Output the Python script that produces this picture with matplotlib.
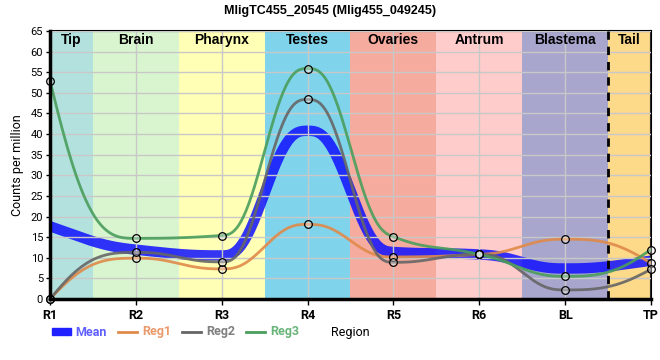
import numpy as np
import matplotlib
matplotlib.use("Agg")
import matplotlib.pyplot as plt
from matplotlib.patches import Patch
from matplotlib.lines import Line2D

# ---- data ----
positions = ["R1", "R2", "R3", "R4", "R5", "R6", "BL", "TP"]
reg1 = [0.0, 9.9, 7.3, 18.1, 10.2, 10.8, 14.5, 8.65]
reg2 = [0.0, 11.3, 9.0, 48.4, 8.9, 10.8, 2.2, 7.2]
reg3 = [52.9, 14.7, 15.4, 55.9, 15.1, 10.8, 5.5, 12.0]
regions = ["Tip", "Brain", "Pharynx", "Testes", "Ovaries", "Antrum", "Blastema", "Tail"]
region_colors = ["#b3e2de", "#d9f5cf", "#ffffb6", "#7fd4eb", "#f5ab9e", "#ffcccc", "#a8a6cc", "#fdd98a"]
title = "MligTC455_20545 (Mlig455_049245)"

mean = list(np.mean([reg1, reg2, reg3], axis=0))


def hermite_curve(ys, end_factor=None, n=60):
    ys = np.asarray(ys, float)
    k = len(ys)
    d = np.diff(ys)
    m = np.zeros(k)
    for i in range(1, k - 1):
        if d[i - 1] * d[i] > 0:
            m[i] = 2.0 / (1.0 / d[i - 1] + 1.0 / d[i])
    if end_factor is None:
        m[0] = 1.5 * d[0] - m[1] / 2
        m[-1] = 1.5 * d[-1] - m[-2] / 2
    else:
        m[0] = end_factor * d[0]
        m[-1] = end_factor * d[-1] if d[-1] * d[-2] <= 0 else 1.5 * d[-1] - m[-2] / 2
    xs_out, ys_out = [], []
    for i in range(k - 1):
        t = np.linspace(0, 1, n, endpoint=(i == k - 2))
        h0 = 1 - 10 * t**3 + 15 * t**4 - 6 * t**5
        h1 = t - 6 * t**3 + 8 * t**4 - 3 * t**5
        h3 = -4 * t**3 + 7 * t**4 - 3 * t**5
        h2 = 1 - h0
        y = h0 * ys[i] + h2 * ys[i + 1] + h1 * m[i] + h3 * m[i + 1]
        xs_out.append(i + t)
        ys_out.append(y)
    return np.concatenate(xs_out), np.concatenate(ys_out)


plt.rcParams["font.family"] = ["Roboto", "DejaVu Sans"]

fig = plt.figure(figsize=(6.6, 3.6), dpi=100)
ax = fig.add_axes([50 / 660, 61 / 360, 601 / 660, 268 / 360])

x = np.arange(len(positions))
# region spans
bounds = [0, 0.5, 1.5, 2.5, 3.5, 4.5, 5.5, 6.5, 7]
for i, (r, c) in enumerate(zip(regions, region_colors)):
    ax.axvspan(bounds[i], bounds[i + 1], color=c, zorder=0, lw=0)
    ax.text((bounds[i] + bounds[i + 1]) / 2, 62.7, r, ha="center", va="center",
            fontsize=10, fontweight="bold", family=["Liberation Sans"], zorder=5)

ax.set_xlim(0, 7)
ax.set_ylim(0, 65)
ax.set_yticks(np.arange(0, 66, 5))
ax.set_xticks(x)
ax.set_xticklabels(positions, fontsize=9, fontweight="bold")
ax.tick_params(axis="y", labelsize=8, length=3, width=1, pad=2)
ax.tick_params(axis="x", length=4, width=1, pad=3)
ax.grid(True, color="#c8c8c8", lw=1, zorder=1)
ax.set_axisbelow(False)

ax.axvline(6.5, color="black", ls=(0, (3, 2.5)), lw=2, zorder=4)

# mean line
mx, my = hermite_curve(mean)
ax.plot(mx, my, color="#1010ff", lw=7.5, alpha=0.85, solid_capstyle="butt", zorder=2)

series = [(reg1, "#e08a4a"), (reg2, "#666666"), (reg3, "#4a9e5c")]
for vals, col in series:
    cx, cy = hermite_curve(vals, end_factor=2.2)
    ax.plot(cx, cy, color=col, lw=2, alpha=0.9, zorder=3)
for vals, col in series:
    ax.plot(x, vals, ls="none", marker="o", ms=5.5, mfc=(1, 1, 1, 0.35),
            mec="black", mew=0.9, zorder=6, clip_on=False)

for s in ax.spines.values():
    s.set_color("black")
    s.set_linewidth(1.5)
ax.spines["left"].set_linewidth(2.5)
ax.spines["bottom"].set_linewidth(2.5)
ax.spines["left"].set_zorder(7)
ax.spines["bottom"].set_zorder(7)

ax.set_ylabel("Counts per million", fontsize=9, labelpad=5)
ax.set_xlabel("Region", fontsize=9, labelpad=3)

fig.suptitle(title, x=0.5, y=0.985, fontsize=9, fontweight="bold", family=["Liberation Sans"])

handles = [Patch(color="#2020ff", label="Mean"),
           Line2D([0], [0], color="#e08a4a", lw=2, label="Reg1"),
           Line2D([0], [0], color="#666666", lw=2, label="Reg2"),
           Line2D([0], [0], color="#4a9e5c", lw=2, label="Reg3")]
leg = fig.legend(handles=handles, loc="center left", bbox_to_anchor=(52 / 660, 1 - 332 / 360),
                 ncol=4, frameon=False, fontsize=9, handlelength=1.5, handleheight=0.5,
                 handletextpad=0.4, columnspacing=0.9, borderaxespad=0, borderpad=0)
text_cols = ["#6060ff", "#eb9a6b", "#7f7f7f", "#6ab57a"]
for t, c in zip(leg.get_texts(), text_cols):
    t.set_color(c)
    t.set_fontweight("bold")

fig.savefig("out.png", dpi=100)
